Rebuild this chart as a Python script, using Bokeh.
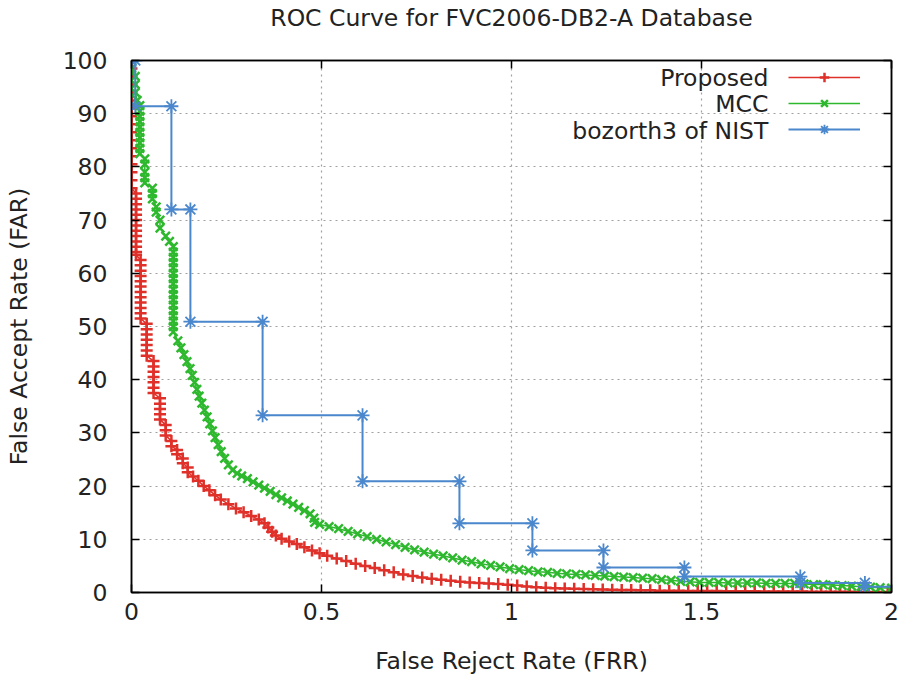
from bokeh.plotting import figure
from bokeh.models import (Range1d, FixedTicker, LinearAxis, Legend, LegendItem, Label)
from bokeh.embed import file_html
from bokeh.resources import INLINE

# ---------------- data ----------------
title_text = "ROC Curve for FVC2006-DB2-A Database"
series_names = ["Proposed", "MCC", "bozorth3 of NIST"]

red_x = [0, 0, 0, 0, 0, 0, 0, 0, 0, 0, 0, 0, 0, 0, 0, 0, 0,
         0.012, 0.012, 0.012, 0.012, 0.012, 0.012, 0.012, 0.012, 0.012, 0.012, 0.012, 0.012, 0.012,
         0.024, 0.024, 0.024, 0.024, 0.024, 0.024, 0.024, 0.024, 0.024, 0.024, 0.024, 0.024,
         0.04, 0.04, 0.04, 0.04, 0.04, 0.04, 0.04,
         0.058, 0.058, 0.058, 0.058, 0.058, 0.058, 0.058,
         0.075, 0.075, 0.075, 0.075, 0.075,
         0.09, 0.09, 0.09,
         0.105, 0.105, 0.12, 0.12, 0.135, 0.135, 0.148, 0.148,
         0.162, 0.176, 0.19, 0.205, 0.22, 0.235, 0.255, 0.275, 0.295, 0.315,
         0.335, 0.35, 0.36, 0.37, 0.38, 0.395, 0.415, 0.435, 0.455, 0.475,
         0.495, 0.515, 0.54, 0.565, 0.59, 0.615, 0.64, 0.665, 0.69, 0.715,
         0.74, 0.765, 0.79, 0.815, 0.84, 0.865, 0.89, 0.915, 0.94, 0.965,
         0.99, 1.015, 1.04, 1.065, 1.09, 1.115, 1.14, 1.165, 1.19, 1.215,
         1.24, 1.265, 1.29, 1.315, 1.34, 1.365, 1.39, 1.415, 1.44, 1.465,
         1.49, 1.515, 1.54, 1.565, 1.59, 1.615, 1.64, 1.665, 1.69, 1.715,
         1.74, 1.765, 1.79, 1.815, 1.84, 1.865, 1.89, 1.915, 1.94, 1.965, 1.99]
red_y = [100, 98.5, 97, 95.5, 94, 92.5, 91, 89.5, 88, 86.5, 85, 83.5, 82, 80.5, 79, 77.5, 76,
         75, 74, 73, 72, 71, 70, 69, 68, 67, 66, 65, 64, 63.5,
         62.5, 61.5, 60.5, 59.5, 58.5, 57.5, 56.5, 55.5, 54.5, 53.5, 52.5, 51.5,
         50.5, 49.5, 48.5, 47.5, 46.5, 45.5, 44.5,
         43.5, 42.5, 41.5, 40.5, 39.5, 38.5, 37.5,
         36.5, 35.5, 34.5, 33.5, 32.5,
         31.5, 30.5, 29.5,
         28.5, 27.5, 26.8, 26, 25.2, 24.3, 23.5, 22.6,
         21.8, 21.0, 20.0, 19.2, 18.3, 17.5, 16.6, 15.8, 15.1, 14.4,
         13.7, 13.0, 12.2, 11.4, 10.7, 10.1, 9.6, 9.1, 8.5, 7.9,
         7.4, 6.9, 6.4, 5.9, 5.4, 5.0, 4.6, 4.2, 3.8, 3.4,
         3.1, 2.8, 2.6, 2.4, 2.2, 2.0, 1.9, 1.8, 1.7, 1.6,
         1.45, 1.3, 1.15, 1.0, 0.9, 0.8, 0.75, 0.7, 0.65, 0.6,
         0.55, 0.5, 0.45, 0.45, 0.4, 0.4, 0.35, 0.35, 0.35, 0.3,
         0.3, 0.3, 0.3, 0.25, 0.25, 0.25, 0.25, 0.2, 0.2, 0.2,
         0.2, 0.2, 0.15, 0.15, 0.15, 0.15, 0.15, 0.1, 0.1, 0.1, 0.1]

green_x = [0, 0, 0.01, 0.01, 0.01, 0.015,
           0.022, 0.022, 0.022, 0.022, 0.022, 0.022, 0.022, 0.022, 0.022, 0.022,
           0.035, 0.035, 0.035, 0.035, 0.035,
           0.055, 0.055, 0.055, 0.065, 0.065, 0.075, 0.075, 0.09, 0.1,
           0.11, 0.11, 0.11, 0.11, 0.11, 0.11, 0.11, 0.11, 0.11, 0.11, 0.11,
           0.11, 0.11, 0.11, 0.11, 0.11, 0.11,
           0.122, 0.13, 0.138, 0.146, 0.154, 0.16, 0.166, 0.172, 0.178, 0.185,
           0.192, 0.199, 0.206, 0.213, 0.22, 0.228, 0.236, 0.245, 0.255, 0.266,
           0.278, 0.29, 0.305, 0.32, 0.335, 0.35, 0.365, 0.38, 0.395, 0.41,
           0.425, 0.44, 0.455, 0.47, 0.48, 0.482, 0.495, 0.52, 0.545, 0.57,
           0.595, 0.62, 0.645, 0.67, 0.695, 0.72, 0.745, 0.77, 0.795, 0.82,
           0.845, 0.87, 0.895, 0.92, 0.945, 0.97, 0.995, 1.02, 1.045, 1.07,
           1.095, 1.12, 1.145, 1.17, 1.195, 1.22, 1.245, 1.27, 1.295, 1.32,
           1.345, 1.37, 1.395, 1.42, 1.445, 1.47, 1.495, 1.52, 1.545, 1.57,
           1.595, 1.62, 1.645, 1.67, 1.695, 1.72, 1.745, 1.77, 1.795, 1.82,
           1.845, 1.87, 1.895, 1.92, 1.945, 1.97, 2.0]
green_y = [100, 98.5, 97, 95.5, 94, 92.5,
           91.5, 90.5, 89.5, 88.5, 87.5, 86.5, 85.5, 84.5, 83.5, 82.5,
           81.5, 80.5, 79, 78, 77,
           76, 75, 74, 72.5, 71.5, 70, 68.5, 67, 66,
           65, 64, 63, 62, 61, 60, 59, 58, 57, 56, 55,
           54, 53, 52, 51, 50, 49,
           47.3, 46, 44.7, 43.4, 42.1, 40.8, 39.5, 38.2, 36.9, 35.6,
           34.3, 33, 31.7, 30.4, 29.1, 27.8, 26.5, 25.2, 24, 23,
           22.4, 21.9, 21.4, 20.8, 20.2, 19.6, 19.0, 18.4, 17.8, 17.2,
           16.6, 16.0, 15.4, 14.8, 14.0, 13.2, 12.8, 12.4, 12.0, 11.5,
           11.0, 10.5, 10.0, 9.5, 9.0, 8.5, 8.0, 7.6, 7.2, 6.9,
           6.5, 6.1, 5.8, 5.4, 5.1, 4.8, 4.5, 4.3, 4.1, 3.9,
           3.8, 3.6, 3.5, 3.4, 3.3, 3.2, 3.1, 3.0, 2.9, 2.8,
           2.7, 2.6, 2.4, 2.3, 2.1, 2.0, 1.9, 1.9, 1.9, 1.8,
           1.8, 1.8, 1.8, 1.7, 1.7, 1.7, 1.7, 1.6, 1.5, 1.5,
           1.4, 1.3, 1.2, 1.1, 1.0, 0.9, 0.8]

blue_x = [0, 0.01, 0.01, 0.105, 0.105, 0.155, 0.155, 0.345, 0.345, 0.608, 0.608,
          0.863, 0.863, 1.055, 1.055, 1.242, 1.242, 1.455, 1.455, 1.76, 1.76,
          1.93, 1.93, 2.1]
blue_y = [100, 100, 91.4, 91.4, 72.0, 72.0, 50.9, 50.9, 33.3, 33.3, 20.9,
          20.9, 13.0, 13.0, 7.9, 7.9, 4.7, 4.7, 3.0, 3.0, 1.8,
          1.8, 1.1, 1.1]

x_ticks = [0, 0.5, 1, 1.5, 2]
x_tick_labels = ["0", "0.5", "1", "1.5", "2"]
y_ticks = [0, 10, 20, 30, 40, 50, 60, 70, 80, 90, 100]
y_tick_labels = ["0", "10", "20", "30", "40", "50", "60", "70", "80", "90", "100"]

# ---------------- styles ----------------
FONT = "DejaVu Sans"
FS = "23.5px"
RED = "#e0302a"
GREEN = "#2db82d"
BLUE = "#4a87cc"
TXT = "#222222"

p = figure(width=899, height=678, x_range=Range1d(0, 2), y_range=Range1d(0, 100),
           output_backend="svg", toolbar_location=None, title_location=None,
           min_border_left=131, min_border_right=8, min_border_top=60, min_border_bottom=86)

p.background_fill_color = "white"
p.border_fill_color = "white"
p.outline_line_color = "black"
p.outline_line_width = 1.5

for ax, ticks, labels in ((p.xaxis[0], x_ticks, x_tick_labels), (p.yaxis[0], y_ticks, y_tick_labels)):
    ax.ticker = FixedTicker(ticks=ticks)
    ax.major_label_overrides = {t: l for t, l in zip(ticks, labels)}
    ax.major_label_text_font = FONT
    ax.major_label_text_font_size = FS
    ax.major_label_text_color = TXT
    ax.axis_label_text_font = FONT
    ax.axis_label_text_font_size = FS
    ax.axis_label_text_font_style = "normal"
    ax.axis_label_text_color = TXT
    ax.major_tick_in = 8
    ax.major_tick_out = 0
    ax.minor_tick_line_color = None
    ax.axis_line_color = "black"
    ax.axis_line_width = 1.5
    ax.major_tick_line_width = 1.5

p.xaxis.axis_label = "False Reject Rate (FRR)"
p.yaxis.axis_label = "False Accept Rate (FAR)"
p.xaxis.major_label_standoff = 10
p.xaxis.axis_label_standoff = 24
p.yaxis.major_label_standoff = 24
p.yaxis.axis_label_standoff = 27

# mirrored tick marks on the right and top; the top one carries the chart title
for loc, ticks in (("right", y_ticks), ("above", x_ticks)):
    ax = LinearAxis(ticker=FixedTicker(ticks=ticks), major_label_text_font_size="0px",
                    major_label_standoff=0, major_tick_in=8, major_tick_out=0,
                    minor_tick_line_color=None, axis_line_color="black",
                    axis_line_width=1.5, major_tick_line_width=1.5)
    ax.major_label_overrides = {t: "" for t in ticks}
    if loc == "above":
        ax.axis_label = title_text
        ax.axis_label_text_font = FONT
        ax.axis_label_text_font_size = FS
        ax.axis_label_text_font_style = "normal"
        ax.axis_label_text_color = TXT
        ax.axis_label_standoff = 29
    p.add_layout(ax, loc)

for g, ticks in ((p.xgrid[0], x_ticks), (p.ygrid[0], y_ticks)):
    g.ticker = FixedTicker(ticks=ticks)
    g.grid_line_color = "#a0a0a0"
    g.grid_line_dash = "2 4"
    g.grid_line_width = 1.2

r_line = p.line(red_x, red_y, line_color=RED, line_width=1.5)
r_pts = p.scatter(red_x, red_y, marker="cross", size=12, line_color=RED, line_width=2.5)
g_line = p.line(green_x, green_y, line_color=GREEN, line_width=1.5)
g_pts = p.scatter(green_x, green_y, marker="x", size=12, line_color=GREEN, line_width=2.5)
b_line = p.line(blue_x, blue_y, line_color=BLUE, line_width=2)
b_pts = p.scatter(blue_x, blue_y, marker="asterisk", size=14, line_color=BLUE, line_width=1.8)

legend = Legend(items=[LegendItem(label=" ", renderers=[r_line, r_pts]),
                       LegendItem(label=" ", renderers=[g_line, g_pts]),
                       LegendItem(label=" ", renderers=[b_line, b_pts])],
                location=(652, 446), glyph_width=72, glyph_height=24, spacing=2,
                padding=5, label_standoff=5, border_line_alpha=0,
                background_fill_alpha=0, label_text_font_size="10px")
p.add_layout(legend)

legend_text_x = 1.676
legend_text_y = [96.8, 91.9, 86.8]
for name, ly in zip(series_names, legend_text_y):
    p.add_layout(Label(x=legend_text_x, y=ly, text=name, text_align="right",
                       text_baseline="middle", text_font=FONT, text_font_size=FS,
                       text_color=TXT))

open("out.html", "w").write(file_html(p, INLINE))
